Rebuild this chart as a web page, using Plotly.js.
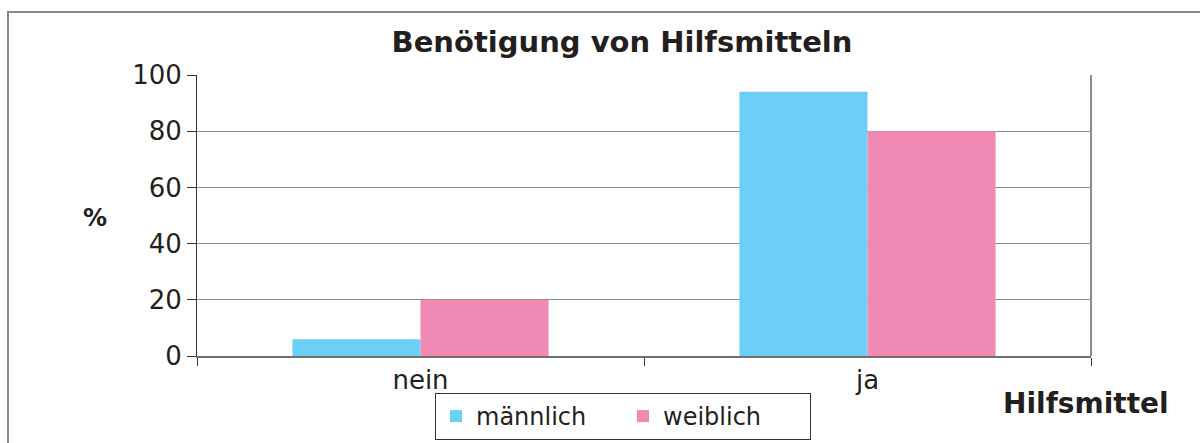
<!DOCTYPE html>
<html><head><meta charset="utf-8">
<script src="https://cdn.plot.ly/plotly-3.0.1.min.js"></script>
<style>html,body{margin:0;padding:0;background:#fff;}#chart{width:1200px;height:443px;}</style>
</head><body><div id="chart"></div>
<script>
const categories = ["nein", "ja"];
const maennlich = [6, 94];
const weiblich = [20, 80];
const seriesNames = ["männlich", "weiblich"];
const yTicks = [0, 20, 40, 60, 80, 100];

const FONT = "DejaVu Sans, sans-serif";
const TXT = "#231f20";
const L = 197, R = 1091, T = 75, B = 356, W = 1200, H = 443;
const px = x => (x - L) / (R - L);
const py = y => (B - y) / (B - T);

const traces = [
  {type: "bar", name: seriesNames[0], x: categories, y: maennlich, marker: {color: "#6ccff6"}},
  {type: "bar", name: seriesNames[1], x: categories, y: weiblich, marker: {color: "#f189b5"}}
];

const layout = {
  width: W, height: H,
  margin: {l: L, r: W - R, t: T, b: H - B, pad: 0, autoexpand: false},
  paper_bgcolor: "#fff", plot_bgcolor: "#fff",
  barmode: "group", bargap: 0.427, bargroupgap: 0,
  font: {family: FONT, color: TXT, size: 26},
  title: {text: "<b>Benötigung von Hilfsmitteln</b>", font: {family: FONT, size: 29, color: TXT},
          x: px(622), xref: "paper", xanchor: "center", y: 1 - 42 / H, yanchor: "middle"},
  xaxis: {
    type: "category", tickson: "boundaries", ticks: "outside", ticklen: 8, tickcolor: "#333",
    showline: true, linecolor: "#707070", linewidth: 2, showgrid: false,
    tickfont: {family: FONT, size: 26, color: TXT}, automargin: false
  },
  yaxis: {
    range: [0, 100], tickvals: yTicks, ticks: "outside", ticklen: 9, tickcolor: "#333",
    showline: true, linecolor: "#333", linewidth: 1,
    showgrid: true, gridcolor: "#8a8a8a", gridwidth: 1, zeroline: false,
    tickfont: {family: FONT, size: 26, color: TXT}, automargin: false
  },
  showlegend: true,
  legend: {orientation: "h", x: px(435), xanchor: "left", y: py(440), yanchor: "bottom",
           bordercolor: "#333", borderwidth: 1, bgcolor: "#fff",
           font: {family: FONT, size: 24, color: TXT}, entrywidth: 142, traceorder: "normal"},
  annotations: [
    {text: "<b>%</b>", xref: "paper", yref: "paper", x: px(95), y: py(218), showarrow: false,
     font: {family: FONT, size: 24, color: TXT}, xanchor: "center", yanchor: "middle"},
    {text: "<b>Hilfsmittel</b>", xref: "paper", yref: "paper", x: px(1086), y: py(403), showarrow: false,
     font: {family: FONT, size: 28, color: TXT}, xanchor: "center", yanchor: "middle"}
  ],
  shapes: [
    {type: "rect", xref: "paper", yref: "paper", x0: px(8), x1: px(1215), y0: py(460), y1: py(12),
     line: {color: "#888", width: 2}, fillcolor: "rgba(0,0,0,0)", layer: "below"},
    {type: "line", xref: "paper", yref: "paper", x0: 1, x1: 1, y0: 0, y1: 1,
     line: {color: "#8a8a8a", width: 2}}
  ]
};

Plotly.newPlot("chart", traces, layout, {displayModeBar: false, staticPlot: true});
</script></body></html>
